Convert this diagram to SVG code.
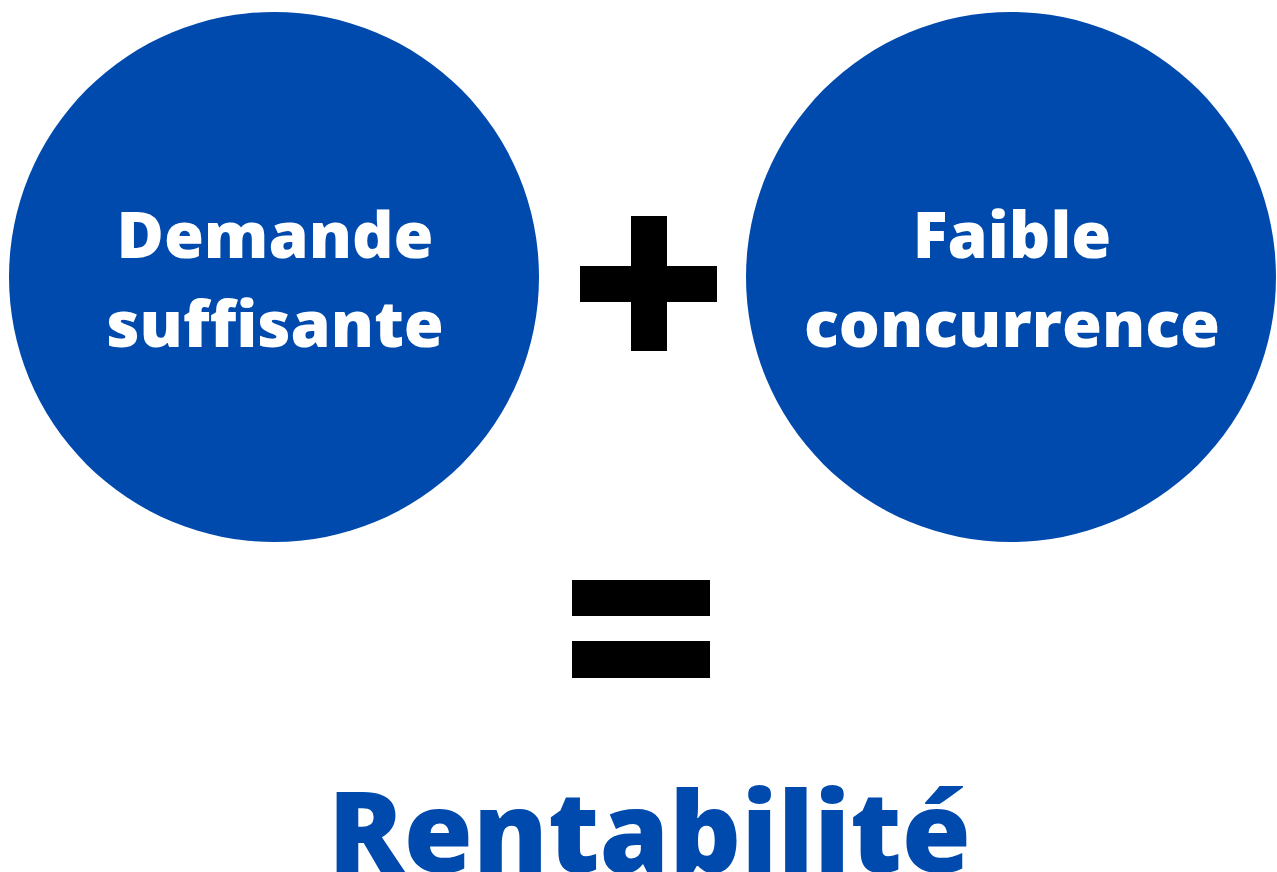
<svg xmlns="http://www.w3.org/2000/svg" width="1277" height="872" viewBox="0 0 1277 872">
  <style>
    .bubble { fill: #004AAD; }
    .label { fill: #FFFFFF; font-family: "Open Sans", "Liberation Sans", sans-serif; font-weight: 800; font-size: 64.6px; text-anchor: middle; }
    .op { fill: #000000; }
    .result { fill: #004AAD; font-family: "Open Sans", "Liberation Sans", sans-serif; font-weight: 800; font-size: 112px; text-anchor: middle; }
  </style>
  <rect width="1277" height="872" fill="#FFFFFF"/>
  <g id="node-demande">
    <circle class="bubble" cx="274" cy="277" r="265"/>
    <text class="label" x="275" y="258">Demande</text>
    <text class="label" x="275" y="347">suffisante</text>
  </g>
  <g id="node-concurrence">
    <circle class="bubble" cx="1011" cy="277" r="265"/>
    <text class="label" x="1012" y="258">Faible</text>
    <text class="label" x="1012" y="347">concurrence</text>
  </g>
  <g id="connectors">
    <g id="plus">
      <rect class="op" x="631" y="216" width="36" height="135"/>
      <rect class="op" x="580" y="266" width="137" height="36"/>
    </g>
    <g id="equals">
      <rect class="op" x="572" y="580" width="138" height="36"/>
      <rect class="op" x="572" y="641" width="138" height="37"/>
    </g>
  </g>
  <g id="node-rentabilite">
    <text class="result" x="649.5" y="872">Rentabilité</text>
  </g>
</svg>
